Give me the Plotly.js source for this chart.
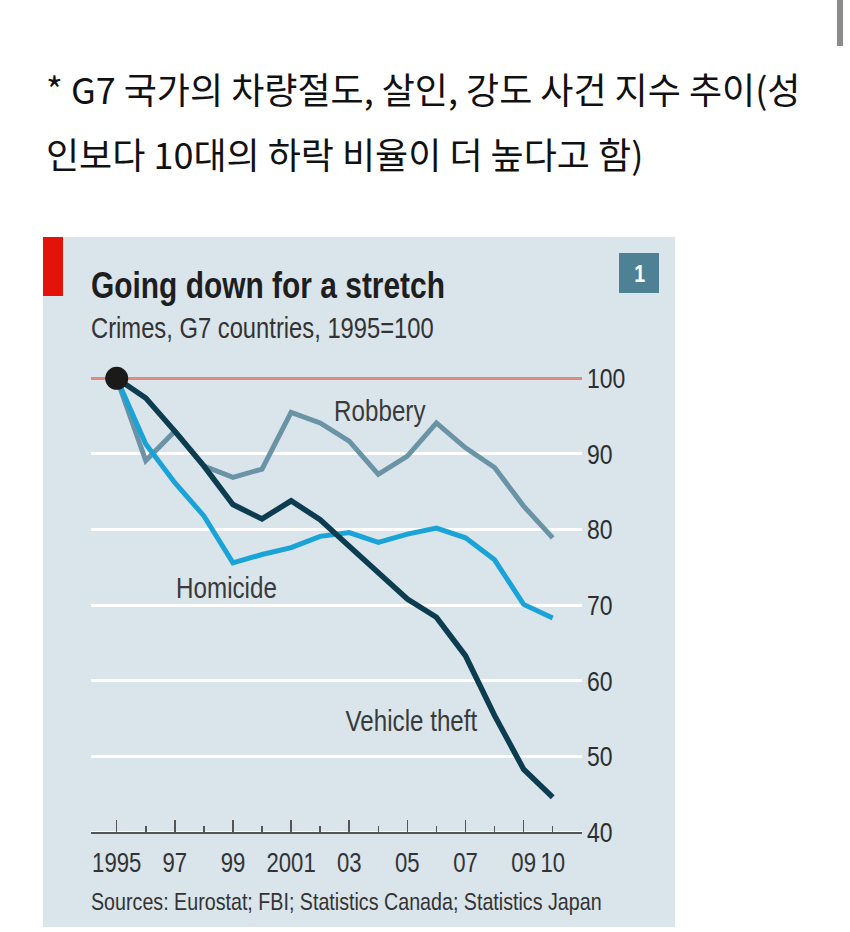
<!DOCTYPE html>
<html>
<head>
<meta charset="utf-8">
<script src="https://cdn.plot.ly/plotly-3.0.1.min.js"></script>
<style>
  html, body { margin: 0; padding: 0; background: #ffffff; }
  #chart { width: 850px; height: 932px; }
</style>
</head>
<body>
<div id="chart"></div>
<script>
// ---- data ----
const years = [1995, 1996, 1997, 1998, 1999, 2000, 2001, 2002, 2003, 2004, 2005, 2006, 2007, 2008, 2009, 2010];
const robbery = [100, 89.1, 93.0, 88.4, 86.9, 88.0, 95.5, 94.1, 91.7, 87.3, 89.7, 94.1, 90.8, 88.2, 83.1, 78.9];
const homicide = [100, 91.3, 86.2, 81.8, 75.6, 76.7, 77.6, 79.1, 79.6, 78.3, 79.4, 80.2, 78.9, 76.0, 70.1, 68.3];
const vehicleTheft = [100, 97.4, 93.0, 88.4, 83.3, 81.4, 83.8, 81.3, 77.8, 74.3, 70.8, 68.4, 63.3, 55.4, 48.3, 44.6];
const seriesNames = ["Robbery", "Homicide", "Vehicle theft"];

const xLabelYears = [1995, 1997, 1999, 2001, 2003, 2005, 2007, 2009, 2010];
const xLabelText = ["1995", "97", "99", "2001", "03", "05", "07", "09", "10"];
const majorTickYears = [1995, 1997, 1999, 2001, 2003, 2005, 2007, 2009];
const minorTickYears = [1996, 1998, 2000, 2002, 2004, 2006, 2008, 2010];
const yTickVals = [40, 50, 60, 70, 80, 90, 100];
const baseValue = 100;

const headline1 = "* G7 국가의 차량절도, 살인, 강도 사건 지수 추이(성";
const headline2 = "인보다 10대의 하락 비율이 더 높다고 함)";
const chartTitle = "Going down for a stretch";
const chartSubtitle = "Crimes, G7 countries, 1995=100";
const sourceText = "Sources: Eurostat; FBI; Statistics Canada; Statistics Japan";
const badgeText = "1";

// ---- styling ----
const W = 850, H = 932;
const px = v => v / W;
const py = v => 1 - v / H;
const SANS = '"Liberation Sans", Arial, sans-serif';
const KR = '"Noto Sans CJK KR", sans-serif';
const NARROW_SCALE = 0.82;   // Liberation Sans squeezed to narrow proportions
const panelColor = '#d9e4eb';

const xRange = [1994.116, 2011.008];
const xDomain = [px(91), px(582)];
const pxPerUnit = (832 - 378.3) / 60;
const yRange = [38, 103];
const yDomain = [1 - (832 + 2 * pxPerUnit) / H, 1 - (378.3 - 3 * pxPerUnit) / H];
const axisPos = 1 - 832 / H;

const colors = ['#6a93a5', '#1aa3d7', '#0c3c50'];
const widths = [5, 5, 5.5];
const values = [robbery, homicide, vehicleTheft];

const traces = values.map((v, i) => ({
  type: 'scatter', mode: 'lines', x: years, y: v, name: seriesNames[i],
  line: { color: colors[i], width: widths[i], shape: 'linear' },
  hoverinfo: 'skip', cliponaxis: false
}));
traces.push({
  type: 'scatter', mode: 'markers', x: [years[0]], y: [robbery[0]],
  xaxis: 'x2', yaxis: 'y2',
  marker: { size: 23, color: '#1b1a1a' }, hoverinfo: 'skip', cliponaxis: false
});

const labelFont = { family: SANS, size: 29.5, color: '#3a3a3a' };

const layout = {
  width: W, height: H,
  margin: { l: 0, r: 0, t: 0, b: 0 },
  paper_bgcolor: '#ffffff',
  plot_bgcolor: 'rgba(0,0,0,0)',
  showlegend: false,
  xaxis: {
    range: xRange, domain: xDomain, anchor: 'free', position: axisPos,
    tickmode: 'array', tickvals: xLabelYears, ticktext: xLabelText, tickangle: 0,
    ticks: '', showgrid: false, zeroline: false,
    showline: true, linecolor: '#555555', linewidth: 1.5,
    tickfont: { family: SANS, size: 27, color: '#333333' },
    ticklabelstandoff: 6, fixedrange: true
  },
  xaxis2: {
    range: xRange, domain: xDomain, anchor: 'free', position: axisPos,
    overlaying: 'x', tickmode: 'array', tickvals: majorTickYears,
    ticks: 'inside', ticklen: 12, tickwidth: 1.5, tickcolor: '#555555',
    minor: { tickmode: 'array', tickvals: minorTickYears, ticks: 'inside', ticklen: 6, tickwidth: 1.5, tickcolor: '#555555', showgrid: false },
    showticklabels: false, showgrid: false, zeroline: false, showline: false, fixedrange: true
  },
  yaxis: {
    range: yRange, domain: yDomain, side: 'right',
    tickmode: 'array', tickvals: yTickVals, ticks: '',
    showgrid: true, gridcolor: '#ffffff', gridwidth: 3,
    zeroline: false, showline: false,
    tickfont: { family: SANS, size: 28, color: '#2e2e2e' },
    ticklabelstandoff: 4, fixedrange: true
  },
  yaxis2: {
    range: yRange, domain: yDomain, side: 'right', overlaying: 'y', anchor: 'x2',
    tickmode: 'array', tickvals: [baseValue], ticks: '', showticklabels: false,
    showgrid: true, gridcolor: '#dd8a7f', gridwidth: 3,
    zeroline: false, showline: false, fixedrange: true
  },
  shapes: [
    { type: 'rect', xref: 'paper', yref: 'paper', x0: px(43), x1: px(675), y0: py(927), y1: py(237),
      fillcolor: panelColor, line: { width: 0 }, layer: 'below' },
    { type: 'rect', xref: 'paper', yref: 'paper', x0: px(43), x1: px(63), y0: py(296), y1: py(237),
      fillcolor: '#e3120b', line: { width: 0 }, layer: 'below' },
    { type: 'rect', xref: 'paper', yref: 'paper', x0: px(619), x1: px(659), y0: py(293), y1: py(253),
      fillcolor: '#4f8194', line: { width: 0 }, layer: 'below' },
    { type: 'rect', xref: 'paper', yref: 'paper', x0: px(837), x1: px(843), y0: py(46), y1: py(0),
      fillcolor: '#8c8c8c', line: { width: 0 }, layer: 'below' }
  ],
  annotations: [
    { text: headline1, xref: 'paper', yref: 'paper', x: px(44), y: py(88), xanchor: 'left', align: 'left', yanchor: 'middle',
      showarrow: false, font: { family: KR, size: 36, color: '#111111' } },
    { text: headline2, xref: 'paper', yref: 'paper', x: px(44), y: py(153), xanchor: 'left', align: 'left', yanchor: 'middle',
      showarrow: false, font: { family: KR, size: 36, color: '#111111' } },
    { text: '<b>' + chartTitle + '</b>', xref: 'paper', yref: 'paper', x: px(89), y: py(285), xanchor: 'left', align: 'left', yanchor: 'middle',
      showarrow: false, font: { family: SANS, size: 36.5, color: '#1e1e1e' } },
    { text: chartSubtitle, xref: 'paper', yref: 'paper', x: px(89), y: py(328), xanchor: 'left', align: 'left', yanchor: 'middle',
      showarrow: false, font: { family: SANS, size: 29, color: '#333333' } },
    { text: '<b>' + badgeText + '</b>', xref: 'paper', yref: 'paper', x: px(639), y: py(273), xanchor: 'center', yanchor: 'middle',
      showarrow: false, font: { family: SANS, size: 24, color: '#ffffff' } },
    { text: seriesNames[0], xref: 'paper', yref: 'paper', x: px(380), y: py(410), xanchor: 'center', yanchor: 'middle',
      showarrow: false, font: labelFont },
    { text: seriesNames[1], xref: 'paper', yref: 'paper', x: px(227), y: py(587), xanchor: 'center', yanchor: 'middle',
      showarrow: false, font: labelFont },
    { text: seriesNames[2], xref: 'paper', yref: 'paper', x: px(411), y: py(720), xanchor: 'center', yanchor: 'middle',
      showarrow: false, font: labelFont },
    { text: sourceText, xref: 'paper', yref: 'paper', x: px(89), y: py(901), xanchor: 'left', align: 'left', yanchor: 'middle',
      showarrow: false, font: { family: SANS, size: 24, color: '#333333' } }
  ]
};

// squeeze Latin text horizontally about its anchor to mimic a narrow typeface
function narrowText(gd) {
  gd.querySelectorAll('text').forEach(el => {
    const ff = (el.style.fontFamily || '');
    if (!ff.includes('Liberation')) return;
    if (el.getAttribute('data-narrowed')) return;
    const bb = el.getBBox();
    const anchor = el.getAttribute('text-anchor') || 'start';
    let ax = bb.x;
    if (anchor === 'middle') ax = bb.x + bb.width / 2;
    else if (anchor === 'end') ax = bb.x + bb.width;
    const prev = el.getAttribute('transform') || '';
    el.setAttribute('transform', prev + ' translate(' + ax + ',0) scale(' + NARROW_SCALE + ',1) translate(' + (-ax) + ',0)');
    el.setAttribute('data-narrowed', '1');
  });
}

Plotly.newPlot('chart', traces, layout, { displayModeBar: false, staticPlot: true })
  .then(gd => narrowText(gd));
</script>
</body>
</html>
